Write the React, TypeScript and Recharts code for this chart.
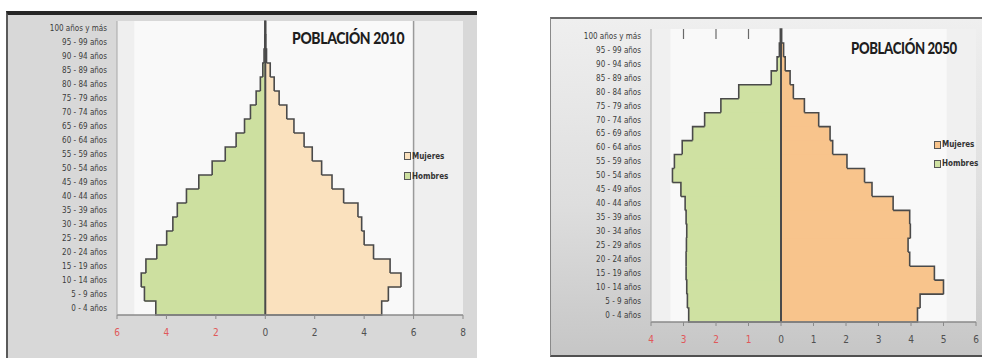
import { BarChart, Bar, XAxis, YAxis, CartesianGrid, ReferenceLine, ReferenceArea, Legend } from "recharts";

const grupos = [
  "100 años y más", "95 - 99 años", "90 - 94 años", "85 - 89 años", "80 - 84 años",
  "75 - 79 años", "70 - 74 años", "65 - 69 años", "60 - 64 años", "55 - 59 años",
  "50 - 54 años", "45 - 49 años", "40 - 44 años", "35 - 39 años", "30 - 34 años",
  "25 - 29 años", "20 - 24 años", "15 - 19 años", "10 - 14 años", "5 - 9 años", "0 - 4 años",
];

// % de la población por grupo de edad (de mayor a menor edad)
const hombres2010 = [0.01, 0.02, 0.05, 0.1, 0.2, 0.37, 0.6, 0.84, 1.18, 1.62, 2.15, 2.69, 3.19, 3.56, 3.74, 3.99, 4.39, 4.83, 5.02, 4.89, 4.43];
const mujeres2010 = [0.01, 0.02, 0.05, 0.2, 0.36, 0.56, 0.87, 1.16, 1.57, 1.9, 2.28, 2.7, 3.17, 3.75, 3.9, 4.0, 4.38, 5.05, 5.49, 4.98, 4.71];
const hombres2050 = [0.02, 0.05, 0.12, 0.3, 1.3, 1.85, 2.35, 2.72, 3.04, 3.28, 3.34, 3.08, 2.95, 2.92, 2.9, 2.91, 2.92, 2.92, 2.9, 2.88, 2.84];
const mujeres2050 = [0.02, 0.08, 0.13, 0.28, 0.38, 0.72, 1.16, 1.51, 1.59, 2.03, 2.57, 2.8, 3.45, 3.96, 3.98, 3.91, 3.96, 4.72, 5.0, 4.28, 4.2];

const ticks2010 = [-6, -4, -2, 0, 2, 4, 6, 8];
const ticks2050 = [-4, -3, -2, -1, 0, 1, 2, 3, 4, 5, 6];
const marcasSup2050 = [-3, -2, -1];

const FONT = '"Liberation Sans Narrow", "DejaVu Sans Condensed", "Liberation Sans", sans-serif';
const OUTLINE = "#4a4a4a";
const RED = "#e0585a";

// Barra sin borde propio: solo el contorno escalonado exterior de la pirámide
const stepShape = (values: number[], fill: string) => (props: any) => {
  const { x, y, width, height } = props;
  const index = props.index ?? grupos.indexOf(props.payload?.grupo);
  const v = values[index];
  const a = x;
  const b = x + width;
  const lo = Math.min(a, b);
  const hi = Math.max(a, b);
  const neg = v < 0;
  const zero = neg ? hi : lo;
  const end = neg ? lo : hi;
  const k = (hi - lo) / Math.abs(v);
  const prev = index > 0 ? values[index - 1] : 0;
  const prevEnd = zero + (neg ? -1 : 1) * Math.abs(prev) * k;
  const last = index === values.length - 1;
  let d = `M${prevEnd},${y} L${end},${y} L${end},${y + height}`;
  if (last) d += ` L${zero},${y + height}`;
  return (
    <g>
      <rect x={lo} y={y} width={hi - lo} height={last ? height : height + 0.8} fill={fill} />
      <path d={d} fill="none" stroke={OUTLINE} strokeWidth={1.6} strokeLinejoin="miter" />
    </g>
  );
};

const AxisTick = (props: any) => {
  const { x, y, payload } = props;
  const v = payload.value;
  return (
    <text x={x} y={y} dy={8} textAnchor="middle" fontSize={10} fontFamily={FONT} fill={v < 0 ? RED : "#505050"}>
      {Math.abs(v)}
    </text>
  );
};

type PyramidProps = {
  titulo: string;
  hombres: number[];
  mujeres: number[];
  colorH: string;
  colorM: string;
  domain: [number, number];
  ticks: number[];
  left: number;
  top: number;
  width: number;
  height: number;
  margin: { top: number; right: number; bottom: number; left: number };
  yWidth: number;
  tickGap: number;
  tituloPos: { left: number; top: number };
  tituloEscala: number;
  leyendaPos: { left: number; top: number };
  leyendaGap: number;
  clara: [number, number];
  plotFill: string;
  gridX?: number;
  marcasSup?: number[];
};

function Pyramid(p: PyramidProps) {
  const rows = grupos.map((g, i) => ({ grupo: g, hombres: -p.hombres[i], mujeres: p.mujeres[i] }));
  const signedH = p.hombres.map((v) => -v);

  const renderLegend = () => (
    <div style={{ fontFamily: FONT, fontSize: 8, color: "#333", fontWeight: "bold" }}>
      {[
        { name: "Mujeres", color: p.colorM },
        { name: "Hombres", color: p.colorH },
      ].map((it) => (
        <div key={it.name} style={{ display: "flex", alignItems: "center", height: p.leyendaGap }}>
          <span style={{ width: 5, height: 6, border: "1px solid #555", background: it.color, marginRight: 1 }} />
          {it.name}
        </div>
      ))}
    </div>
  );

  return (
    <div style={{ position: "absolute", left: p.left, top: p.top }}>
      <BarChart
        width={p.width}
        height={p.height}
        data={rows}
        layout="vertical"
        stackOffset="sign"
        barCategoryGap={0}
        barGap={0}
        margin={p.margin}
      >
        <CartesianGrid horizontal={false} vertical={false} fill={p.plotFill} stroke="none" />
        <ReferenceArea x1={p.clara[0]} x2={p.clara[1]} fill="#f9f9f9" fillOpacity={1} stroke="none" ifOverflow="hidden" />
        <XAxis
          type="number"
          domain={p.domain}
          ticks={p.ticks}
          allowDataOverflow
          axisLine={{ stroke: "#8a8a8a", strokeWidth: 1.5 }}
          tickLine={{ stroke: "#8a8a8a" }}
          tickSize={4}
          tickMargin={9}
          tick={<AxisTick />}
          height={30}
        />
        {p.marcasSup && (
          <XAxis
            xAxisId="sup"
            orientation="top"
            type="number"
            domain={p.domain}
            ticks={p.marcasSup}
            allowDataOverflow
            mirror
            height={1}
            axisLine={false}
            tickLine={{ stroke: "#6a6a6a", strokeWidth: 1.2 }}
            tickSize={10}
            tickFormatter={() => ""}
          />
        )}
        <YAxis
          type="category"
          dataKey="grupo"
          width={p.yWidth}
          interval={0}
          tickLine={false}
          axisLine={{ stroke: "#a8a8a8" }}
          tickMargin={p.tickGap}
          tick={{ fontSize: 8, fontFamily: FONT, fill: "#3c3c3c" }}
        />
        {p.gridX !== undefined && <ReferenceLine x={p.gridX} stroke="#9a9a9a" strokeWidth={1.5} />}
        <Bar dataKey="mujeres" name="Mujeres" stackId="p" fill={p.colorM} isAnimationActive={false} shape={stepShape(p.mujeres, p.colorM)} />
        <Bar dataKey="hombres" name="Hombres" stackId="p" fill={p.colorH} isAnimationActive={false} shape={stepShape(signedH, p.colorH)} />
        <ReferenceLine x={0} stroke="#4a4a4a" strokeWidth={2} />
        <Legend
          layout="vertical"
          align="center"
          verticalAlign="middle"
          content={renderLegend}
          wrapperStyle={{ left: p.leyendaPos.left, top: p.leyendaPos.top, width: 60 }}
        />
      </BarChart>
      <div
        style={{
          position: "absolute",
          left: p.tituloPos.left,
          top: p.tituloPos.top,
          fontFamily: "Lato, sans-serif",
          fontWeight: 900,
          fontSize: 16,
          color: "#1e1e1e",
          whiteSpace: "nowrap",
          letterSpacing: -0.4,
          transform: `scaleX(${p.tituloEscala})`,
          transformOrigin: "left center",
        }}
      >
        {p.titulo}
      </div>
    </div>
  );
}

export default function App() {
  return (
    <div style={{ position: "fixed", left: 0, top: 0, width: 982, height: 358, overflow: "hidden", background: "#fff" }}>
      {/* marco del gráfico 2010 */}
      <div
        style={{
          position: "absolute",
          left: 6,
          top: 11,
          width: 471,
          height: 350,
          background: "#d8d8d8",
          borderTop: "4px solid #262626",
          borderLeft: "2px solid #5a5a5a",
          boxSizing: "border-box",
        }}
      />
      {/* marco del gráfico 2050 */}
      <div
        style={{
          position: "absolute",
          left: 550,
          top: 17,
          width: 440,
          height: 340,
          background: "linear-gradient(180deg, #efefef 0%, #dedede 55%, #c6c6c6 100%)",
          borderTop: "2px solid #6a6a6a",
          borderLeft: "1px solid #8a8a8a",
          borderBottom: "2px solid #505050",
          boxSizing: "border-box",
        }}
      />
      <Pyramid
        titulo="POBLACIÓN 2010"
        hombres={hombres2010}
        mujeres={mujeres2010}
        colorH="#cde0a0"
        colorM="#fae1be"
        domain={[-6, 8]}
        ticks={ticks2010}
        left={7}
        top={13}
        width={470}
        height={345}
        margin={{ top: 8, right: 14, bottom: 13, left: 0 }}
        yWidth={110}
        tickGap={4}
        tituloPos={{ left: 285, top: 15 }}
        tituloEscala={0.87}
        leyendaPos={{ left: 397, top: 133 }}
        leyendaGap={20}
        clara={[-5.3, 6]}
        plotFill="#efefef"
        gridX={6}
      />
      <Pyramid
        titulo="POBLACIÓN 2050"
        hombres={hombres2050}
        mujeres={mujeres2050}
        colorH="#cfe1a2"
        colorM="#f8c48c"
        domain={[-4, 6]}
        ticks={ticks2050}
        left={550}
        top={18}
        width={442}
        height={340}
        margin={{ top: 11, right: 16, bottom: 6, left: 0 }}
        yWidth={101}
        tickGap={4}
        tituloPos={{ left: 301, top: 20 }}
        tituloEscala={0.82}
        leyendaPos={{ left: 384, top: 117 }}
        leyendaGap={19}
        clara={[-3.4, 5.1]}
        plotFill="#f0f0f0"
        marcasSup={marcasSup2050}
      />
    </div>
  );
}
